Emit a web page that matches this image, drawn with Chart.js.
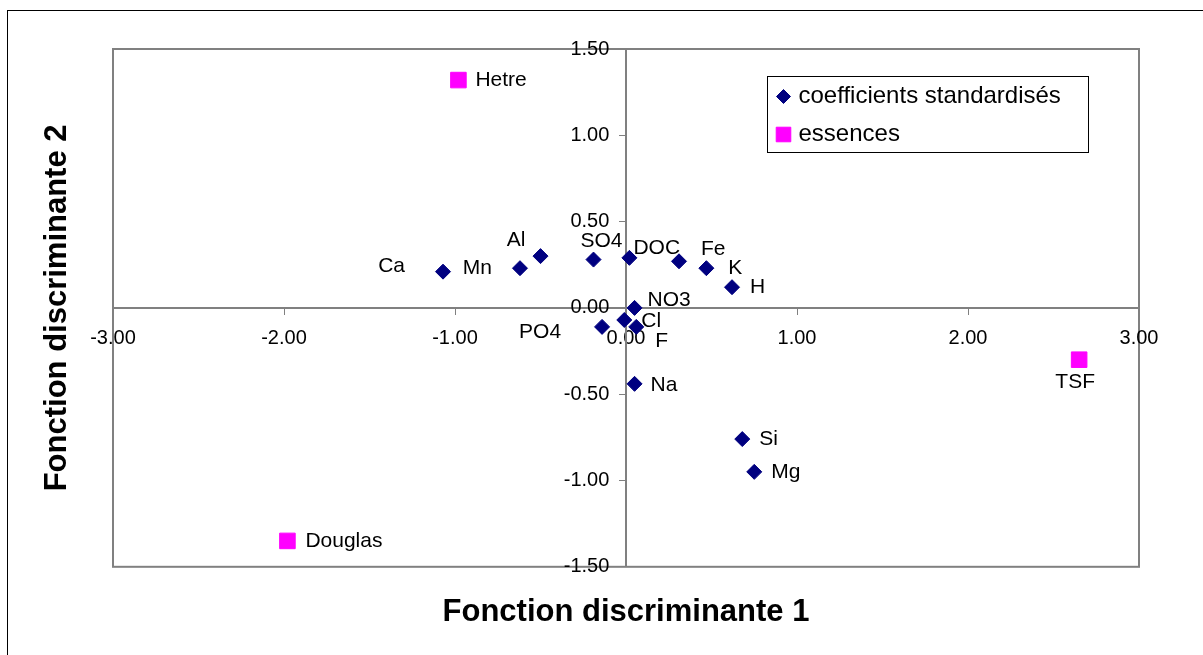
<!DOCTYPE html>
<html>
<head>
<meta charset="utf-8">
<script src="https://cdn.jsdelivr.net/npm/chart.js@4/dist/chart.umd.min.js"></script>
<style>
  html, body { margin: 0; padding: 0; background: #fff; }
  #wrap { width: 1203px; height: 655px; }
</style>
</head>
<body>
<div id="wrap"><canvas id="chart" width="1203" height="655"></canvas></div>
<script>
// standardised coefficients (discriminant function 1 / 2)
const coefNames = ['Ca', 'Mn', 'Al', 'SO4', 'DOC', 'Fe', 'K', 'H', 'NO3', 'Cl', 'F', 'PO4', 'Na', 'Si', 'Mg'];
const coefX = [-1.07, -0.62, -0.50, -0.19, 0.02, 0.31, 0.47, 0.62, 0.05, -0.01, 0.06, -0.14, 0.05, 0.68, 0.75];
const coefY = [0.21, 0.23, 0.30, 0.28, 0.29, 0.27, 0.23, 0.12, 0.00, -0.07, -0.11, -0.11, -0.44, -0.76, -0.95];

// tree species centroids
const speciesNames = ['Hetre', 'Douglas', 'TSF'];
const speciesX = [-0.98, -1.98, 2.65];
const speciesY = [1.32, -1.35, -0.30];

const seriesLabels = ['coefficients standardisés', 'essences'];
const xTitle = 'Fonction discriminante 1';
const yTitle = 'Fonction discriminante 2';

// where each point label sits relative to its marker: [dx, dy, align]
const labelPlacement = {
  Ca: [-38, -5, 'right'], Mn: [-28, 0, 'right'], Al: [-15, -16, 'right'],
  SO4: [-13, -18, 'left'], DOC: [4, -10, 'left'], Fe: [22, -12, 'left'],
  K: [22, 0, 'left'], H: [18, 0, 'left'], NO3: [13, -8, 'left'],
  Cl: [17, 1, 'left'], F: [19, 14, 'left'], PO4: [-41, 5, 'right'],
  Na: [16, 1, 'left'], Si: [17, 0, 'left'], Mg: [17, 0, 'left'],
  Hetre: [17, 0, 'left'], Douglas: [18, 0, 'left'], TSF: [-4, 23, 'center']
};

const FONT = 'Arial, "Liberation Sans", sans-serif';

const toPoints = (xs, ys) => xs.map((x, i) => ({ x: x, y: ys[i] }));

// white page, outer border and grey plot frame (Excel look)
const frame = {
  id: 'frame',
  beforeDraw(chart) {
    const { ctx, chartArea } = chart;
    ctx.save();
    ctx.fillStyle = '#fff';
    ctx.fillRect(0, 0, chart.width, chart.height);
    ctx.strokeStyle = '#000';
    ctx.lineWidth = 1;
    ctx.strokeRect(7.5, 10.5, chart.width + 50, chart.height + 50);
    ctx.strokeStyle = '#808080';
    ctx.lineWidth = 2;
    ctx.strokeRect(chartArea.left, chartArea.top, chartArea.right - chartArea.left, chartArea.bottom - chartArea.top);
    ctx.restore();
  }
};

const pointLabels = {
  id: 'pointLabels',
  afterDatasetsDraw(chart) {
    const ctx = chart.ctx;
    ctx.save();
    ctx.font = '21px ' + FONT;
    ctx.fillStyle = '#000';
    ctx.textBaseline = 'middle';
    chart.data.datasets.forEach((ds, di) => {
      chart.getDatasetMeta(di).data.forEach((pt, i) => {
        const name = ds.names[i];
        const p = labelPlacement[name] || [17, 0, 'left'];
        ctx.textAlign = p[2];
        ctx.fillText(name, pt.x + p[0], pt.y + p[1]);
      });
    });
    ctx.restore();
  }
};

// boxed legend inside the plot, top right
const boxLegend = {
  id: 'boxLegend',
  afterDraw(chart) {
    const { ctx, chartArea } = chart;
    const left = chartArea.right - 372, top = chartArea.top + 27;
    const w = 321, h = 76;
    ctx.save();
    ctx.fillStyle = '#fff';
    ctx.fillRect(left, top, w, h);
    ctx.strokeStyle = '#000';
    ctx.lineWidth = 1;
    ctx.strokeRect(left + 0.5, top + 0.5, w, h);
    const rows = [20.5, 58.5];
    const radii = [7, 10.3];
    chart.data.datasets.forEach((ds, i) => {
      const y = top + rows[i];
      ctx.fillStyle = ds.backgroundColor;
      ctx.strokeStyle = ds.borderColor;
      ctx.lineWidth = 1;
      Chart.helpers.drawPoint(ctx, { pointStyle: ds.pointStyle, radius: radii[i], rotation: 0, borderWidth: 1 }, left + 16.5, y);
      ctx.fillStyle = '#000';
      ctx.font = '24px ' + FONT;
      ctx.textAlign = 'left';
      ctx.textBaseline = 'middle';
      ctx.fillText(ds.label, left + 31.5, y);
    });
    ctx.restore();
  }
};

const tickFont = { family: FONT, size: 20 };
const titleFont = { family: FONT, size: 31, weight: 'bold' };

new Chart(document.getElementById('chart'), {
  type: 'scatter',
  data: {
    datasets: [
      {
        label: seriesLabels[0],
        data: toPoints(coefX, coefY),
        names: coefNames,
        pointStyle: 'rectRot',
        radius: 7.5,
        backgroundColor: '#000080',
        borderColor: '#000080',
        borderWidth: 1
      },
      {
        label: seriesLabels[1],
        data: toPoints(speciesX, speciesY),
        names: speciesNames,
        pointStyle: 'rect',
        radius: 11,
        backgroundColor: '#ff00ff',
        borderColor: '#ff00ff',
        borderWidth: 1
      }
    ]
  },
  options: {
    responsive: false,
    animation: false,
    events: [],
    layout: { padding: { top: 49, right: 64, bottom: 0, left: 0 } },
    plugins: {
      legend: { display: false },
      tooltip: { enabled: false },
      title: {
        display: true,
        position: 'left',
        fullSize: false,
        text: yTitle,
        color: '#000',
        font: titleFont,
        padding: { top: 38.8, bottom: 37 }
      },
      subtitle: {
        display: true,
        position: 'bottom',
        fullSize: false,
        text: xTitle,
        color: '#000',
        font: titleFont,
        padding: { top: 26.8, bottom: 24.2 }
      }
    },
    scales: {
      x: {
        type: 'linear',
        position: { y: 0 },
        min: -3,
        max: 3,
        ticks: {
          stepSize: 1,
          autoSkip: false,
          maxRotation: 0,
          padding: 13,
          color: '#000',
          font: tickFont,
          callback: v => v.toFixed(2)
        },
        grid: { drawOnChartArea: false, drawTicks: true, tickLength: 6, color: '#808080' },
        border: { color: '#808080', width: 2 },
        afterFit: s => { s.height = 0; }
      },
      y: {
        type: 'linear',
        position: { x: 0 },
        min: -1.5,
        max: 1.5,
        ticks: {
          stepSize: 0.5,
          autoSkip: false,
          color: '#000',
          font: tickFont,
          // centred axes draw labels flush against the line; trailing spaces give Excel's gap
          callback: v => v.toFixed(2) + '   '
        },
        grid: { drawOnChartArea: false, drawTicks: true, tickLength: 6, color: '#808080' },
        border: { color: '#808080', width: 2 },
        afterFit: s => { s.width = 0; }
      }
    }
  },
  plugins: [frame, pointLabels, boxLegend]
});
</script>
</body>
</html>
